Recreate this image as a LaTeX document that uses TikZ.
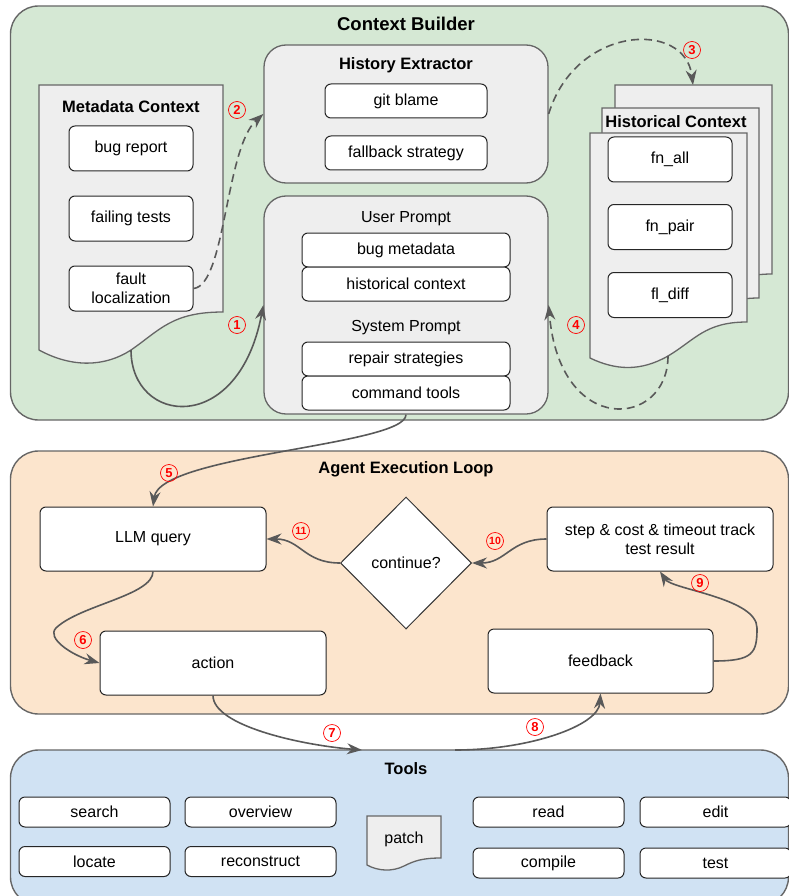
\documentclass[tikz,border=0pt]{standalone}
\usepackage{fontspec}
\setmainfont{Liberation Sans}
\usetikzlibrary{arrows.meta,shapes.geometric}

\definecolor{cbgreen}{HTML}{D5E8D4}
\definecolor{loopfill}{HTML}{FCE5CD}
\definecolor{toolblue}{HTML}{D0E2F3}
\definecolor{boxgray}{HTML}{EEEEEE}
\definecolor{linegray}{HTML}{666666}
\definecolor{arrowgray}{HTML}{595959}

\begin{document}
\begin{tikzpicture}[x=1pt,y=-1pt,>={Stealth[length=15pt,width=11pt]},
                    semithick]

  \tikzstyle{panel}=[draw=linegray,rounded corners=28pt,line width=1.4pt]
  \tikzstyle{group}=[draw=linegray,fill=boxgray,rounded corners=22pt,line width=1.3pt]
  \tikzstyle{doc}=[draw=linegray,fill=boxgray,line width=1.3pt]
  \tikzstyle{item}=[draw=black!85,fill=white,rounded corners=6pt,line width=1pt,
                    align=center,font=\fontsize{16}{19}\selectfont]
  \tikzstyle{tool}=[item,minimum width=151,minimum height=30]
  \tikzstyle{decision}=[draw=black!80,fill=white,diamond,aspect=1,inner sep=0pt,
                        minimum width=131,minimum height=132,line width=1pt,
                        font=\fontsize{16}{19}\selectfont]
  \tikzstyle{heading}=[font=\fontsize{16.5}{20}\selectfont\bfseries]
  \tikzstyle{plain}=[font=\fontsize{16}{19}\selectfont]
  \tikzstyle{num}=[circle,draw=red,text=red,line width=0.7pt,inner sep=0pt,
                   minimum size=17pt,font=\fontsize{13}{13}\selectfont\bfseries]
  \tikzstyle{flow}=[->,draw=arrowgray,fill=none,line width=1.6pt]
  \tikzstyle{dflow}=[flow,dash pattern=on 8pt off 5pt]

  \useasboundingbox (0,0) rectangle (789,896);

  % Context Builder
  \node[panel,fill=cbgreen,minimum width=778,minimum height=414] (cb) at (399.5,213) {};
  \node[heading,font=\fontsize{18.5}{22}\selectfont\bfseries] (cbt) at (406,24) {Context Builder};

  \draw[doc] (39,85) -- (223,85) -- (223,312) .. controls (172,312) and (160,330) .. (131,350)
             .. controls (105,367) and (72,368) .. (39,350) -- cycle;
  \node[heading] (md) at (131,107) {Metadata Context};
  \node[item,minimum width=124,minimum height=45] (br) at (131,148.5) {bug report};
  \node[item,minimum width=124,minimum height=45] (ft) at (131,218.5) {failing tests};
  \node[item,minimum width=124,minimum height=45] (fl) at (131,288.5) {fault\\localization};
  \coordinate (mdbot) at (131,350);

  \node[group,minimum width=284,minimum height=138] (he) at (406,114) {};
  \node[heading] (het) at (406,65) {History Extractor};
  \node[item,minimum width=162,minimum height=34] (gb) at (406,101) {git blame};
  \node[item,minimum width=162,minimum height=34] (fs) at (406,153) {fallback strategy};

  \node[group,minimum width=284,minimum height=218] (up) at (406,305) {};
  \node[plain] (upt) at (406,219) {User Prompt};
  \node[item,minimum width=208,minimum height=34] (bm) at (406,250) {bug metadata};
  \node[item,minimum width=208,minimum height=34] (hx) at (406,284) {historical context};
  \node[plain] (spt) at (406,328) {System Prompt};
  \node[item,minimum width=208,minimum height=34] (rs) at (406,359) {repair strategies};
  \node[item,minimum width=208,minimum height=34] (ct) at (406,393) {command tools};

  \draw[doc] (615,85) -- (772,85) -- (772,274) .. controls (730,274) and (720,292) .. (693,308)
             .. controls (665,324) and (640,322) .. (615,310) -- cycle;
  \draw[doc] (602,108) -- (759,108) -- (759,298) .. controls (717,298) and (707,316) .. (680,332)
             .. controls (652,348) and (627,346) .. (602,334) -- cycle;
  \draw[doc] (590,133) -- (747,133) -- (747,322) .. controls (705,322) and (695,340) .. (668,356)
             .. controls (640,372) and (615,370) .. (590,358) -- cycle;
  \node[heading] (hc) at (676,122) {Historical Context};
  \node[item,minimum width=124,minimum height=45] (fa) at (670,159.5) {fn\_all};
  \node[item,minimum width=124,minimum height=45] (fp) at (670,227) {fn\_pair};
  \node[item,minimum width=124,minimum height=45] (fd) at (670,295) {fl\_diff};
  \coordinate (hctop) at (693,85);
  \coordinate (hcbot) at (668,356);

  % Agent Execution Loop
  \node[panel,fill=loopfill,minimum width=778,minimum height=263] (ael) at (399.5,582.5) {};
  \node[heading] (aelt) at (406,469) {Agent Execution Loop};
  \node[item,minimum width=226,minimum height=64] (llm) at (153,539) {LLM query};
  \node[decision] (cont) at (406,563) {continue?};
  \node[item,minimum width=226,minimum height=64] (trk) at (660,539) {step \& cost \& timeout track\\test result};
  \node[item,minimum width=226,minimum height=64] (act) at (213,663) {action};
  \node[item,minimum width=225,minimum height=64] (fb) at (600.5,661) {feedback};

  % Tools
  \node[panel,fill=toolblue,minimum width=778,minimum height=155] (tl) at (399.5,827.5) {};
  \node[heading] (tlt) at (406,769) {Tools};
  \node[tool] (srch) at (94.5,812) {search};
  \node[tool] (ovw) at (260.5,812) {overview};
  \node[tool] (loc) at (94.5,861.5) {locate};
  \node[tool] (rec) at (260.5,861.5) {reconstruct};
  \draw[doc] (367,816) -- (441,816) -- (441,858) .. controls (422,858) and (414,861) .. (404,866)
             .. controls (392,872) and (378,871) .. (367,865) -- cycle;
  \node[plain] (pt) at (404,839) {patch};
  \node[tool] (rd) at (548.5,812) {read};
  \node[tool] (ed) at (715.5,812) {edit};
  \node[tool] (cmp) at (548.5,863) {compile};
  \node[tool] (tst) at (715.5,863) {test};
  \coordinate (tin) at (362,750);
  \coordinate (tout) at (455,750);

  % connectors
  \coordinate (bend9) at (757,628);
  \coordinate (bend6) at (56,628);
  \draw[flow] (mdbot) .. controls +(0,75) and +(-25,132) .. (up.west);
  \draw[dflow] (fl.east) .. controls +(32,-3) and +(-38,34) .. (he.west);
  \draw[dflow] (he.east) .. controls +(27,-89) and +(-8,-65) .. (hctop);
  \draw[dflow] (hcbot) .. controls +(0,72) and +(11,133) .. (up.east);
  \draw[flow] (up.south) .. controls +(0,31) and +(7,-52) .. (llm.north);
  \draw[flow] (llm.south) .. controls +(0,24) and +(24,-23) .. (bend6)
              .. controls +(-10,10) and +(-28,-8) .. (act.west);
  \draw[flow] (act.south) .. controls +(0,30) and +(-62,-5) .. (tin);
  \draw[flow] (tout) .. controls +(75,0) and +(-2,32) .. (fb.south);
  \draw[flow] (fb.east) .. controls +(40,0) and +(0,25) .. (bend9)
              .. controls +(0,-30) and +(12,18) .. (trk.south);
  \draw[flow] (trk.west) .. controls +(-36,0) and +(34,0) .. (cont.east);
  \draw[flow] (cont.west) .. controls +(-36,0) and +(34,0) .. (llm.east);

  \node[num] (n1) at (237,325) {1};
  \node[num] (n2) at (237,110) {2};
  \node[num] (n3) at (692,50) {3};
  \node[num] (n4) at (576,325) {4};
  \node[num] (n5) at (169,473) {5};
  \node[num] (n6) at (83,640) {6};
  \node[num] (n7) at (332,733) {7};
  \node[num] (n8) at (535,727) {8};
  \node[num] (n9) at (700,583) {9};
  \node[num,font=\fontsize{10.5}{10.5}\selectfont\bfseries] (n10) at (495,541) {10};
  \node[num,font=\fontsize{10.5}{10.5}\selectfont\bfseries] (n11) at (301,531) {11};
\end{tikzpicture}
\end{document}
